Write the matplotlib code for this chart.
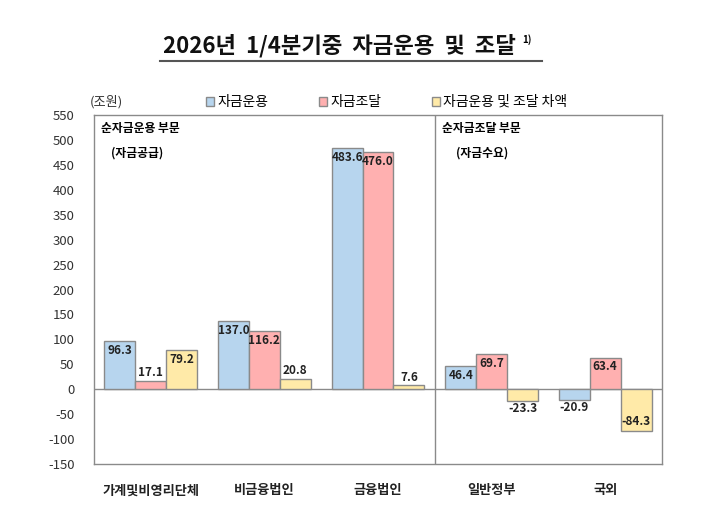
import matplotlib
matplotlib.use("Agg")
import matplotlib.pyplot as plt
import numpy as np

plt.rcParams['font.family'] = ['Noto Sans CJK KR', 'DejaVu Sans']

categories = ['가계및비영리단체', '비금융법인', '금융법인', '일반정부', '국외']
series_names = ['자금운용', '자금조달', '자금운용 및 조달 차액']
use_vals = [96.3, 137.0, 483.6, 46.4, -20.9]
raise_vals = [17.1, 116.2, 476.0, 69.7, 63.4]
diff_vals = [79.2, 20.8, 7.6, -23.3, -84.3]
yticks = list(range(-150, 551, 50))

colors = ['#B7D5EE', '#FFB0B0', '#FFEAA8']
edge = '#8a8a8a'

fig = plt.figure(figsize=(7.1, 5.17), dpi=100)
ax = fig.add_axes([0.1324, 0.1025, 0.8, 0.675])

x = np.arange(len(categories))
w = 0.272
for i, (vals, c) in enumerate(zip([use_vals, raise_vals, diff_vals], colors)):
    pos = x + (i - 1) * w
    ax.bar(pos, vals, w, color=c, edgecolor=edge, linewidth=1.0, label=series_names[i], zorder=2)
    for px, v in zip(pos, vals):
        txt = f'{v:.1f}'
        if abs(v) >= 40:
            if v > 0:
                ax.annotate(txt, (px, v), xytext=(0, -2), textcoords='offset points',
                            ha='center', va='top', fontsize=8.5, fontweight='bold', color='#222222', zorder=3)
            else:
                ax.annotate(txt, (px, v), xytext=(0, 2), textcoords='offset points',
                            ha='center', va='bottom', fontsize=8.5, fontweight='bold', color='#222222', zorder=3)
        else:
            if v >= 0:
                ax.annotate(txt, (px, v), xytext=(0, 1), textcoords='offset points',
                            ha='center', va='bottom', fontsize=8.5, fontweight='bold', color='#222222', zorder=3)
            else:
                ax.annotate(txt, (px, v), xytext=(0, -1), textcoords='offset points',
                            ha='center', va='top', fontsize=8.5, fontweight='bold', color='#222222', zorder=3)

ax.set_xlim(-0.5, len(categories) - 0.5)
ax.set_ylim(-150, 550)
ax.set_yticks(yticks)
ax.set_yticklabels([str(t) for t in yticks], fontsize=9.5, color='#333333')
ax.tick_params(axis='y', length=0, pad=14)
ax.set_xticks(x)
ax.set_xticklabels(categories, fontsize=9.5, fontweight='bold', color='#222222')
ax.tick_params(axis='x', length=0, pad=14)
for s in ax.spines.values():
    s.set_color('#8a8a8a')
    s.set_linewidth(1.0)
ax.axhline(0, color='#8a8a8a', linewidth=1.0, zorder=1)
ax.axvline(2.5, color='#8a8a8a', linewidth=1.0, zorder=1)

ax.text(0.012, 0.962, '순자금운용 부문', transform=ax.transAxes, fontsize=8.5, fontweight='bold', va='center')
ax.text(0.03, 0.892, '(자금공급)', transform=ax.transAxes, fontsize=8.5, fontweight='bold', va='center')
ax.text(0.612, 0.962, '순자금조달 부문', transform=ax.transAxes, fontsize=8.5, fontweight='bold', va='center')
ax.text(0.638, 0.892, '(자금수요)', transform=ax.transAxes, fontsize=8.5, fontweight='bold', va='center')

fig.text(90 / 710, 1 - 102 / 517, '(조원)', fontsize=9.5, color='#333333', va='center', ha='left')

leg = fig.legend(loc='center left', bbox_to_anchor=(206 / 710, 1 - 102 / 517), ncol=3,
                 frameon=False, fontsize=10, handlelength=0.6, handleheight=0.6,
                 handletextpad=0.25, columnspacing=3.6, borderaxespad=0, borderpad=0)

fig.text(163 / 710, 1 - 46 / 517, '2026년  1/4분기중  자금운용  및  조달',
         fontsize=16, fontweight='bold', ha='left', va='center', color='#111111')
fig.text(522 / 710, 1 - 40 / 517, '1)', fontsize=7, fontweight='bold', ha='left', va='center')
fig.add_artist(plt.Line2D([160 / 710, 542 / 710], [1 - 61 / 517, 1 - 61 / 517],
                          color='#555555', linewidth=1.5, transform=fig.transFigure))

fig.savefig('out.png', dpi=100)
